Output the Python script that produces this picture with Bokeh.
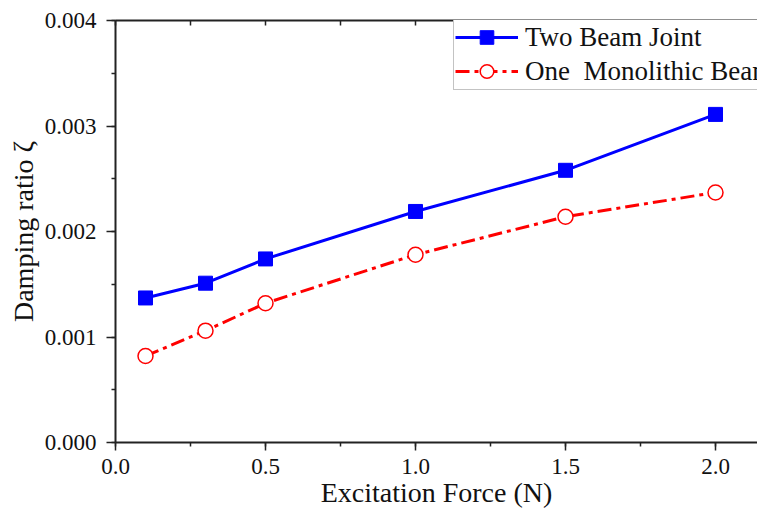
from bokeh.plotting import figure
from bokeh.models import (LinearAxis, SingleIntervalTicker, PrintfTickFormatter,
                          FixedTicker, Range1d, Legend, LegendItem)
from bokeh.embed import file_html
from bokeh.resources import INLINE

force = [0.1, 0.3, 0.5, 1.0, 1.5, 2.0]
two_beam = [0.00137, 0.00151, 0.00174, 0.00219, 0.00258, 0.00311]
monolithic = [0.00082, 0.00106, 0.00132, 0.00178, 0.00214, 0.00237]
labels = ["Two Beam Joint", "One  Monolithic Beam"]
x_title = "Excitation Force (N)"
y_title = "Damping ratio ζ"
top_ticks = [0.0, 0.25, 0.5, 0.75, 1.0, 1.25, 1.5, 1.75, 2.0]

FONT = "Liberation Serif"
W, H = 757, 511
MT, MB, ML = 20, 69, 115

p = figure(width=W, height=H, output_backend="svg", toolbar_location=None,
           x_range=Range1d(0, 2.14), y_range=Range1d(0, 0.004),
           min_border_left=ML, min_border_right=0, min_border_top=MT,
           min_border_bottom=MB, x_axis_location=None, y_axis_location=None)
p.outline_line_color = None
p.xgrid.visible = False
p.ygrid.visible = False
p.background_fill_color = "white"

def style(ax):
    ax.axis_line_color = "#222222"
    ax.axis_line_width = 2
    ax.major_tick_line_color = "#222222"
    ax.minor_tick_line_color = "#222222"
    ax.major_tick_line_width = 1.5
    ax.minor_tick_line_width = 1.5
    ax.major_label_text_font = FONT
    ax.major_label_text_font_size = "23px"
    ax.major_label_text_color = "#111111"
    ax.axis_label_text_font = FONT
    ax.axis_label_text_font_size = "28px"
    ax.axis_label_text_font_style = "normal"
    ax.axis_label_text_color = "#111111"

xb = LinearAxis(ticker=SingleIntervalTicker(interval=0.5, num_minor_ticks=2),
                formatter=PrintfTickFormatter(format="%.1f"),
                axis_label=x_title)
style(xb)
xb.major_tick_out = 8
xb.major_tick_in = 0
xb.minor_tick_out = 4
xb.minor_tick_in = 0
xb.major_label_standoff = 8
xb.axis_label_standoff = 0
p.add_layout(xb, "below")

yl = LinearAxis(ticker=SingleIntervalTicker(interval=0.001, num_minor_ticks=2),
                formatter=PrintfTickFormatter(format="%.3f"),
                axis_label=y_title)
style(yl)
yl.major_tick_out = 9
yl.major_tick_in = 0
yl.minor_tick_out = 4
yl.minor_tick_in = 0
yl.major_label_standoff = 10
yl.axis_label_standoff = 3
p.add_layout(yl, "left")

xt = LinearAxis(ticker=FixedTicker(ticks=[], minor_ticks=top_ticks))
style(xt)
xt.major_tick_out = 0
xt.major_tick_in = 0
xt.minor_tick_out = 0
xt.minor_tick_in = 5
p.add_layout(xt, "above")

l1 = p.line(force, two_beam, line_color="#0000FF", line_width=3)
m1 = p.scatter(force, two_beam, marker="square", size=14, fill_color="#0000FF",
               line_color="#0000FF")
l2 = p.line(force, monolithic, line_color="#FF0000", line_width=3,
            line_dash="14 5 4 5")
m2 = p.scatter(force, monolithic, marker="circle", size=15, fill_color="white",
               line_color="#FF0000", line_width=1.5)

frame_h = H - MT - MB
leg = Legend(items=[LegendItem(label=labels[0], renderers=[l1, m1]),
                    LegendItem(label=labels[1], renderers=[l2, m2])],
             location=(338, frame_h - 70))
leg.label_text_font = FONT
leg.label_text_font_size = "27px"
leg.label_text_color = "#111111"
leg.glyph_width = 63
leg.glyph_height = 34
leg.label_height = 34
leg.label_standoff = 7
leg.spacing = 0
leg.padding = 1
leg.margin = 0
leg.border_line_color = "#888888"
leg.border_line_width = 1.5
leg.background_fill_alpha = 1.0
p.add_layout(leg, "center")

open("out.html", "w").write(file_html(p, INLINE))
